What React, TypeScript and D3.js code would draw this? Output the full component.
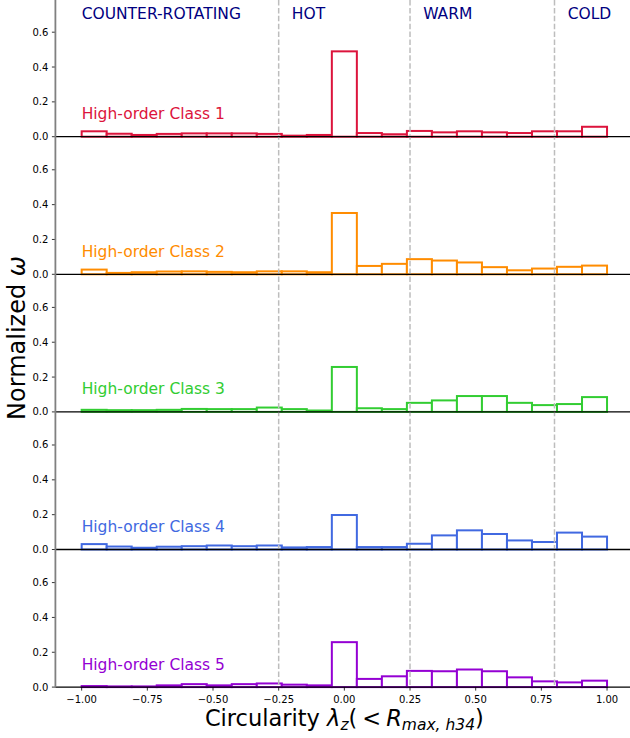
import React from 'react';
import * as d3 from 'd3';

// ---------- data ----------
const BIN_COUNT = 21;
const BIN_MIN = -1;
const BIN_MAX = 1;

const CLASS_NAMES = [
  'High-order Class 1',
  'High-order Class 2',
  'High-order Class 3',
  'High-order Class 4',
  'High-order Class 5',
];
const CLASS_COLORS = ['#DC143C', '#FF8C00', '#32CD32', '#4169E1', '#9400D3'];

const CLASS1 = [0.031, 0.017, 0.010, 0.016, 0.019, 0.019, 0.019, 0.016, 0.006, 0.010, 0.490,
  0.021, 0.014, 0.033, 0.025, 0.031, 0.025, 0.021, 0.031, 0.031, 0.057];
const CLASS2 = [0.027, 0.008, 0.012, 0.016, 0.017, 0.014, 0.012, 0.017, 0.017, 0.012, 0.352,
  0.048, 0.060, 0.087, 0.079, 0.068, 0.041, 0.023, 0.033, 0.043, 0.050];
const CLASS3 = [0.012, 0.010, 0.010, 0.012, 0.017, 0.016, 0.016, 0.025, 0.016, 0.008, 0.258,
  0.021, 0.016, 0.052, 0.066, 0.091, 0.091, 0.052, 0.039, 0.045, 0.085];
const CLASS4 = [0.031, 0.017, 0.010, 0.016, 0.019, 0.023, 0.019, 0.023, 0.012, 0.014, 0.198,
  0.014, 0.014, 0.033, 0.081, 0.110, 0.089, 0.052, 0.043, 0.097, 0.074];
const CLASS5 = [0.006, 0.004, 0.004, 0.010, 0.017, 0.010, 0.017, 0.021, 0.014, 0.010, 0.258,
  0.047, 0.062, 0.093, 0.091, 0.101, 0.091, 0.056, 0.033, 0.027, 0.037];
const SERIES = [CLASS1, CLASS2, CLASS3, CLASS4, CLASS5];

const REGION_LABELS = ['COUNTER-ROTATING', 'HOT', 'WARM', 'COLD'];
const REGION_LABEL_X = [-1.0, -0.2, 0.3, 0.85];
const REGION_BOUNDARIES = [-0.25, 0.25, 0.8];

const X_TICKS = [-1, -0.75, -0.5, -0.25, 0, 0.25, 0.5, 0.75, 1];
const Y_TICKS = [0, 0.2, 0.4, 0.6];

// ---------- layout ----------
const W = 630;
const H = 738;
const FONT = 'DejaVu Sans, sans-serif';
const X_DOMAIN: [number, number] = [-1.1, 1.1];
const X_RANGE: [number, number] = [55.4, 633.3];
const FIRST_BASELINE = 136.7;
const PANEL_STEP = 137.6;
const Y_MAX = 0.79;

export default function App() {
  const x = d3.scaleLinear().domain(X_DOMAIN).range(X_RANGE);
  const edges = d3.range(BIN_COUNT + 1).map((i) => BIN_MIN + (i * (BIN_MAX - BIN_MIN)) / BIN_COUNT);
  const fmtX = d3.format('.2f');
  const fmtY = d3.format('.1f');
  const lastBase = FIRST_BASELINE + PANEL_STEP * (SERIES.length - 1);
  const leftX = X_RANGE[0];

  const panels = SERIES.map((vals, p) => {
    const base = FIRST_BASELINE + PANEL_STEP * p;
    const y = d3.scaleLinear().domain([0, Y_MAX]).range([base, base - PANEL_STEP]);
    return { vals, p, base, y };
  });

  const y1 = panels[0].y;

  return (
    <svg width={W} height={H} style={{ position: 'absolute', left: 0, top: 0, background: '#fff' }}
      fontFamily={FONT}>
      <rect x={0} y={0} width={W} height={H} fill="#fff" />
      {panels.map(({ vals, p, y }) => (
        <g key={p}>
          {vals.map((v, i) => (
            <rect key={i}
              x={x(edges[i])}
              y={y(v)}
              width={x(edges[i + 1]) - x(edges[i])}
              height={y(0) - y(v)}
              fill="#fff"
              stroke={CLASS_COLORS[p]}
              strokeWidth={2}
            />
          ))}
          <text x={x(-1.0)} y={y(0.1)} fontSize={15.5} fill={CLASS_COLORS[p]}>{CLASS_NAMES[p]}</text>
        </g>
      ))}

      {REGION_BOUNDARIES.map((b) => (
        <line key={b} x1={x(b)} x2={x(b)} y1={0} y2={lastBase}
          stroke="#bdbdbd" strokeWidth={1.5} strokeDasharray="5.5,2.4" />
      ))}

      {panels.map(({ p, base, y }) => (
        <g key={'ax' + p}>
          <line x1={leftX} x2={W} y1={base} y2={base} stroke="#000" strokeWidth={1.3} />
          {Y_TICKS.map((t) => (
            <g key={t}>
              <line x1={leftX - 3.5} x2={leftX} y1={y(t)} y2={y(t)} stroke="#000" strokeWidth={0.8} />
              <text x={leftX - 7} y={y(t)} dy="0.35em" textAnchor="end" fontSize={10} fill="#000">{fmtY(t)}</text>
            </g>
          ))}
        </g>
      ))}

      <line x1={leftX} x2={leftX} y1={0} y2={lastBase} stroke="#808080" strokeWidth={1.8} />

      {X_TICKS.map((t) => (
        <g key={'xt' + t}>
          <line x1={x(t)} x2={x(t)} y1={lastBase} y2={lastBase + 3.5} stroke="#000" strokeWidth={0.8} />
          <text x={x(t)} y={lastBase + 16} textAnchor="middle" fontSize={10} fill="#000">{fmtX(t)}</text>
        </g>
      ))}

      {REGION_LABELS.map((lab, i) => (
        <text key={lab} x={x(REGION_LABEL_X[i])} y={y1(0.676)} fontSize={15.5} fill="#000080">{lab}</text>
      ))}

      <text x={x(0)} y={726} textAnchor="middle" fontSize={22.5} fill="#000">
        <tspan>Circularity </tspan>
        <tspan fontStyle="italic">λ</tspan>
        <tspan fontStyle="italic" fontSize={15.5} dy={4}>z</tspan>
        <tspan dy={-4}>(</tspan>
        <tspan dx={5}>&lt;</tspan>
        <tspan dx={5} fontStyle="italic">R</tspan>
        <tspan fontStyle="italic" fontSize={15.5} dy={4}>max, h34</tspan>
        <tspan dy={-4}>)</tspan>
      </text>

      <text transform="translate(25,338) rotate(-90)" textAnchor="middle" fontSize={24} fill="#000">
        Normalized <tspan fontStyle="italic">ω</tspan>
      </text>
    </svg>
  );
}
